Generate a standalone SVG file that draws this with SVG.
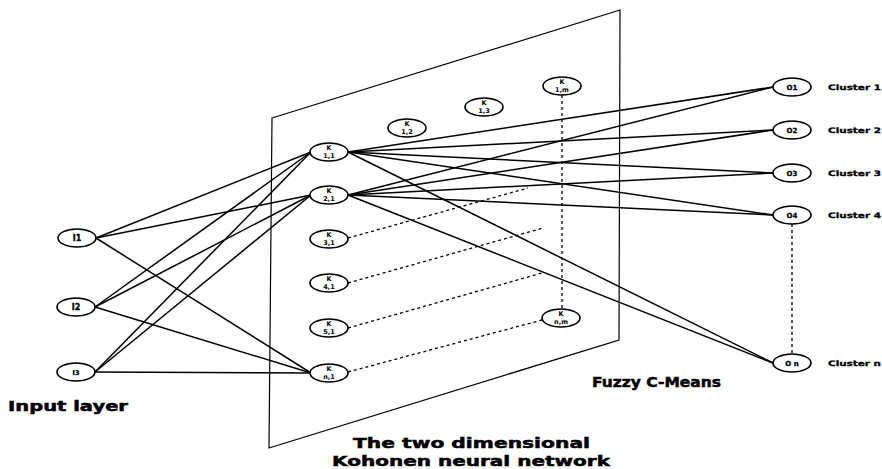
<svg xmlns="http://www.w3.org/2000/svg" width="882" height="469" viewBox="0 0 882 469">
<style>
  .node ellipse { fill: #fff; stroke: #000; stroke-width: 1.6; }
  .kt { font-family: "DejaVu Sans", sans-serif; font-weight: bold; font-size: 6.5px; text-anchor: middle; fill: #000; }
  .nt { font-family: "DejaVu Sans", sans-serif; font-weight: bold; font-size: 8px; text-anchor: middle; fill: #000; stroke: #000; stroke-width: 0.3; }
  .cl { font-family: "DejaVu Sans", sans-serif; font-weight: bold; font-size: 7.5px; fill: #000; stroke: #000; stroke-width: 0.3; }
  .big { font-family: "DejaVu Sans", sans-serif; font-weight: bold; font-size: 14px; fill: #000; stroke: #000; stroke-width: 0.5; }
  .solid line { stroke: #000; stroke-width: 1.5; }
  .dot line { stroke: #000; stroke-width: 1.3; stroke-dasharray: 3 3; }
  .plane { fill: none; stroke: #000; stroke-width: 1.2; }
</style>
<rect width="882" height="469" fill="#fff"/>
<polygon class="plane" points="272,118 620,10 619,340 269,448"/>
<g id="connectors">
  <g class="solid">
    <line x1="96" y1="238" x2="311" y2="152"/>
    <line x1="96" y1="238" x2="311" y2="195"/>
    <line x1="96" y1="238" x2="311" y2="373"/>
    <line x1="95" y1="307" x2="311" y2="152"/>
    <line x1="95" y1="307" x2="311" y2="195"/>
    <line x1="95" y1="307" x2="311" y2="373"/>
    <line x1="95" y1="372" x2="311" y2="152"/>
    <line x1="95" y1="372" x2="311" y2="195"/>
    <line x1="95" y1="372" x2="311" y2="373"/>
    <line x1="348" y1="152" x2="773" y2="87"/>
    <line x1="348" y1="152" x2="773" y2="130"/>
    <line x1="348" y1="152" x2="773" y2="173"/>
    <line x1="348" y1="152" x2="773" y2="215"/>
    <line x1="348" y1="152" x2="773" y2="363"/>
    <line x1="348" y1="195" x2="773" y2="87"/>
    <line x1="348" y1="195" x2="773" y2="130"/>
    <line x1="348" y1="195" x2="773" y2="173"/>
    <line x1="348" y1="195" x2="773" y2="215"/>
    <line x1="348" y1="195" x2="773" y2="363"/>
  </g>
  <g class="dot">
    <line x1="348" y1="238" x2="528" y2="188"/>
    <line x1="348" y1="283" x2="543" y2="228"/>
    <line x1="348" y1="328" x2="542" y2="273"/>
    <line x1="348" y1="372" x2="542" y2="320"/>
    <line x1="562" y1="95" x2="562" y2="309"/>
    <line x1="792" y1="224" x2="792" y2="354"/>
  </g>
</g>
<g id="I1" class="node"><ellipse cx="77" cy="238" rx="19" ry="9"/><text class="nt" x="77" y="241">I1</text></g>
<g id="I2" class="node"><ellipse cx="76" cy="307" rx="19" ry="9"/><text class="nt" x="76" y="310">I2</text></g>
<g id="I3" class="node"><ellipse cx="76" cy="372" rx="19" ry="9"/><text class="nt" x="76" y="375" style="font-size:6.5px">I3</text></g>
<g id="K11" class="node"><ellipse cx="329" cy="152" rx="19" ry="9"/><text class="kt" x="329" y="150">K</text><text class="kt" x="329" y="158">1,1</text></g>
<g id="K21" class="node"><ellipse cx="329" cy="195" rx="19" ry="9"/><text class="kt" x="329" y="193">K</text><text class="kt" x="329" y="201">2,1</text></g>
<g id="K31" class="node"><ellipse cx="329" cy="239" rx="19" ry="9"/><text class="kt" x="329" y="237">K</text><text class="kt" x="329" y="245">3,1</text></g>
<g id="K41" class="node"><ellipse cx="329" cy="283" rx="19" ry="9"/><text class="kt" x="329" y="281">K</text><text class="kt" x="329" y="289">4,1</text></g>
<g id="K51" class="node"><ellipse cx="329" cy="328" rx="19" ry="9"/><text class="kt" x="329" y="326">K</text><text class="kt" x="329" y="334">5,1</text></g>
<g id="Kn1" class="node"><ellipse cx="329" cy="373" rx="19" ry="9"/><text class="kt" x="329" y="371">K</text><text class="kt" x="329" y="379">n,1</text></g>
<g id="K12" class="node"><ellipse cx="407" cy="128" rx="19" ry="9"/><text class="kt" x="407" y="126">K</text><text class="kt" x="407" y="134">1,2</text></g>
<g id="K13" class="node"><ellipse cx="484" cy="107" rx="19" ry="9"/><text class="kt" x="484" y="105">K</text><text class="kt" x="484" y="113">1,3</text></g>
<g id="K1m" class="node"><ellipse cx="562" cy="86" rx="19" ry="9"/><text class="kt" x="562" y="84">K</text><text class="kt" x="562" y="92">1,m</text></g>
<g id="Knm" class="node"><ellipse cx="561" cy="318" rx="19" ry="9"/><text class="kt" x="561" y="316">K</text><text class="kt" x="561" y="324">n,m</text></g>
<g id="O1" class="node"><ellipse cx="792" cy="87" rx="19" ry="9"/><text class="nt" x="792" y="90" style="font-size:7px">O1</text></g>
<g id="O2" class="node"><ellipse cx="792" cy="130" rx="19" ry="9"/><text class="nt" x="792" y="133" style="font-size:7px">O2</text></g>
<g id="O3" class="node"><ellipse cx="792" cy="173" rx="19" ry="9"/><text class="nt" x="792" y="176" style="font-size:7px">O3</text></g>
<g id="O4" class="node"><ellipse cx="792" cy="215" rx="19" ry="9"/><text class="nt" x="792" y="218" style="font-size:7px">O4</text></g>
<g id="On" class="node"><ellipse cx="792" cy="363" rx="19" ry="9"/><text class="nt" x="792" y="366" style="font-size:7px">O n</text></g>
<g id="labels">
  <text class="cl" x="828" y="90" textLength="53" lengthAdjust="spacingAndGlyphs">Cluster 1</text>
  <text class="cl" x="828" y="133" textLength="53" lengthAdjust="spacingAndGlyphs">Cluster 2</text>
  <text class="cl" x="828" y="176" textLength="53" lengthAdjust="spacingAndGlyphs">Cluster 3</text>
  <text class="cl" x="828" y="218" textLength="53" lengthAdjust="spacingAndGlyphs">Cluster 4</text>
  <text class="cl" x="828" y="366" textLength="53" lengthAdjust="spacingAndGlyphs">Cluster n</text>
  <text class="big" x="8" y="411" textLength="120" lengthAdjust="spacingAndGlyphs">Input layer</text>
  <text class="big" x="592" y="387" textLength="129" lengthAdjust="spacingAndGlyphs">Fuzzy C-Means</text>
  <text class="big" x="353" y="448" textLength="237" lengthAdjust="spacingAndGlyphs">The two dimensional</text>
  <text class="big" x="332" y="466" textLength="278" lengthAdjust="spacingAndGlyphs">Kohonen neural network</text>
</g>
</svg>
